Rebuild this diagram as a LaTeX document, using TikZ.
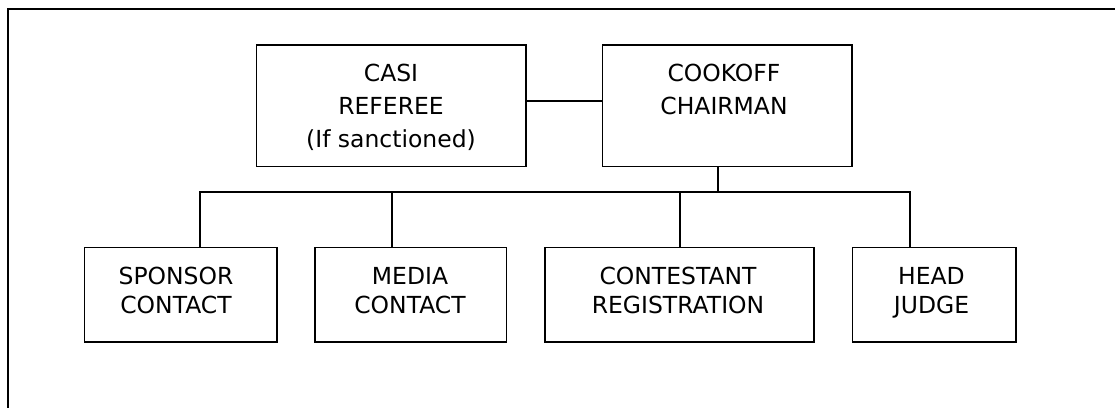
\documentclass[tikz,border=0pt]{standalone}
\usepackage{fontspec}
\setmainfont{DejaVu Sans}
\begin{document}
\begin{tikzpicture}[x=0.75pt,y=-0.75pt,
  box/.style={draw=black,line width=1.2pt,rectangle,inner sep=0pt},
  conn/.style={draw=black,line width=1.4pt},
  toptxt/.style={anchor=north,inner sep=0pt,align=center,font=\fontsize{17.6}{24.8}\selectfont},
  bottxt/.style={anchor=north,inner sep=0pt,align=center,font=\fontsize{17.6}{21.6}\selectfont}]
\useasboundingbox (0,0) rectangle (1115,408);
% outer frame (open at right and bottom)
\draw[line width=1.6pt] (1115,9) -- (8,9) -- (8,408);
% top boxes
\node[box,minimum width=202pt,minimum height=91.3pt] (casi) at (391.3,105.8) {};
\node[box,minimum width=187.3pt,minimum height=91.3pt] (cook) at (727.2,105.8) {};
% bottom boxes
\node[box,minimum width=144.3pt,minimum height=70.9pt] (spons) at (180.5,294.8) {};
\node[box,minimum width=143.8pt,minimum height=70.9pt] (media) at (410.8,294.8) {};
\node[box,minimum width=201.8pt,minimum height=70.9pt] (contest) at (679.5,294.8) {};
\node[box,minimum width=122.4pt,minimum height=70.9pt] (head) at (934.1,294.8) {};
% texts
\node[toptxt] (casit) at (391,63.5) {CASI\\REFEREE\\(If sanctioned)};
\node[toptxt] (cookt) at (724,63.5) {COOKOFF\\CHAIRMAN};
\node[bottxt] (sponst) at (176,267) {SPONSOR\\CONTACT};
\node[bottxt] (mediat) at (410,267) {MEDIA\\CONTACT};
\node[bottxt] (contestt) at (678,267) {CONTESTANT\\REGISTRATION};
\node[bottxt] (headt) at (931.5,267) {HEAD\\JUDGE};
% connectors
\coordinate (jy) at (0,101);
\draw[conn] (casi.east |- jy) -- (cook.west |- jy);
\coordinate (d0) at (718,192.3);
\coordinate (a1) at (200,192.3);
\coordinate (a2) at (392,192.3);
\coordinate (a3) at (680,192.3);
\coordinate (a4) at (910,192.3);
\draw[conn] (d0 |- cook.south) -- (d0);
\draw[conn] (a1 |- spons.north) -- (a1) -- (a4) -- (a4 |- head.north);
\draw[conn] (a2) -- (a2 |- media.north);
\draw[conn] (a3) -- (a3 |- contest.north);
\end{tikzpicture}
\end{document}
